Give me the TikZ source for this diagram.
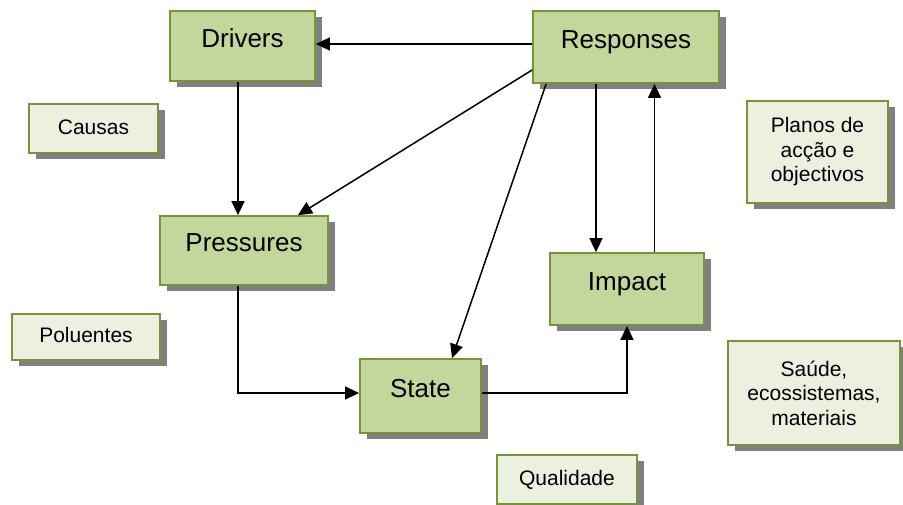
\documentclass[tikz,border=0pt]{standalone}
\usepackage{fontspec}
\setmainfont{Liberation Sans}
\usetikzlibrary{arrows.meta,shadows}
\definecolor{mainfill}{HTML}{C3D69B}
\definecolor{smallfill}{HTML}{EBF1DE}
\definecolor{boxborder}{HTML}{77933C}
\definecolor{shadowgrey}{HTML}{808080}
\begin{document}
\begin{tikzpicture}[x=1pt,y=-1pt,
  shad/.style={general shadow={fill=shadowgrey, shadow xshift=7pt, shadow yshift=-6pt}},
  mainbox/.style={shad, draw=boxborder, fill=mainfill, line width=1.8pt, inner sep=0pt,
    font=\fontsize{26}{30}\selectfont, text height=18pt, text depth=16pt},
  smallbox/.style={shad, draw=boxborder, fill=smallfill, line width=1.8pt, inner sep=0pt,
    font=\fontsize{21}{24.5}\selectfont, align=center},
  onel/.style={text height=15pt, text depth=4pt},
  arr/.style={draw=black, line width=1.5pt, -{Triangle[length=14pt,width=13pt]}}]
\useasboundingbox (0,0) rectangle (903,504);
% main boxes
\node[mainbox, minimum width=145pt, minimum height=70pt] (drivers) at (242.5,46) {Drivers};
\node[mainbox, minimum width=186pt, minimum height=72pt] (resp) at (626,47) {Responses};
\node[mainbox, minimum width=168pt, minimum height=69pt] (pressures) at (244,250.5) {Pressures};
\node[mainbox, minimum width=154pt, minimum height=72pt] (impact) at (627,289) {Impact};
\node[mainbox, minimum width=121pt, minimum height=74pt] (state) at (420.5,396) {State};
% side labels
\node[smallbox, onel, minimum width=129pt, minimum height=49pt] (causas) at (93.5,128.5) {Causas};
\node[smallbox, onel, minimum width=148pt, minimum height=46pt] (poluentes) at (86,337) {Poluentes};
\node[smallbox, minimum width=141pt, minimum height=102pt] (planos) at (817.5,152) {Planos de\\acção e\\objectivos};
\node[smallbox, minimum width=172pt, minimum height=104pt] (saude) at (814,393) {Saúde,\\ecossistemas,\\materiais};
\node[smallbox, onel, minimum width=140pt, minimum height=49pt] (qualidade) at (567,479.5) {Qualidade};
% connectors
\draw[arr] ([yshift=3pt]resp.west) -- ([yshift=3pt]resp.west -| drivers.east);
\draw[arr] ([xshift=-4.5pt]drivers.south) -- ([xshift=-4.5pt]drivers.south |- pressures.north);
\draw[arr] ([yshift=-23pt]resp.west) -- ([xshift=54pt]pressures.north);
\draw[arr] ([xshift=14pt]resp.south west) -- ([xshift=31.5pt]state.north);
\draw[arr] ([xshift=-30pt]resp.south) -- ([xshift=-30pt]resp.south |- impact.north);
\draw[arr] ([xshift=27.5pt]impact.north) -- ([xshift=27.5pt]impact.north |- resp.south);
\draw[arr] ([xshift=-6pt]pressures.south) |- ([yshift=3pt]state.west);
\draw[arr] ([yshift=3pt]state.east) -| (impact.south);
\end{tikzpicture}
\end{document}
